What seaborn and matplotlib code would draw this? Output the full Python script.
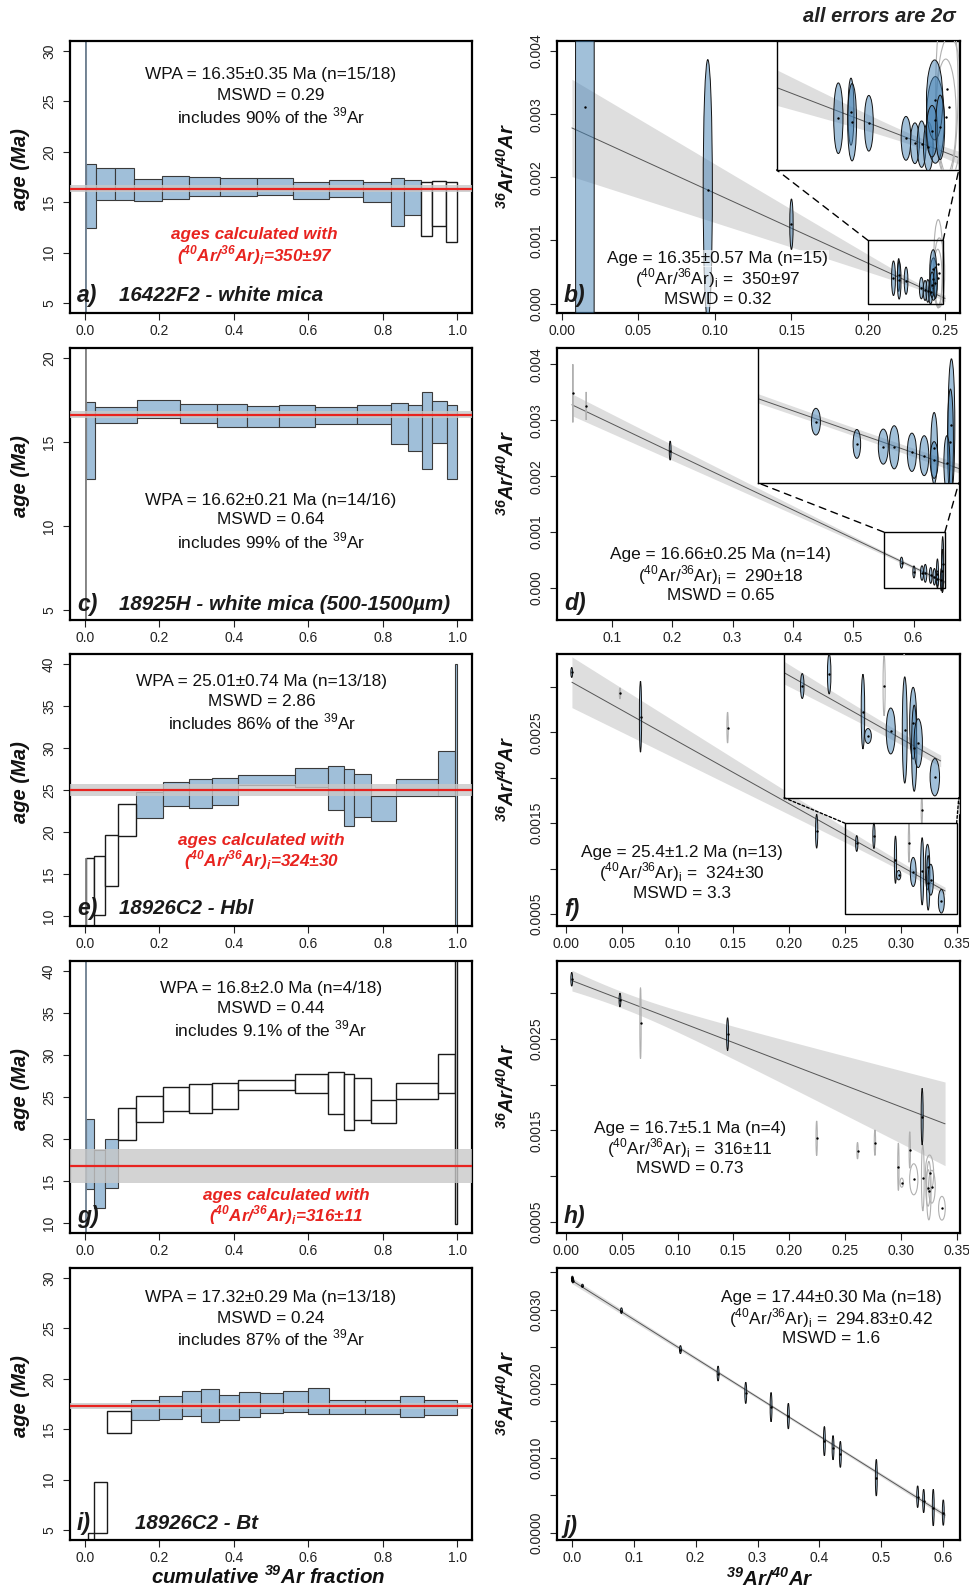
import numpy as np
import matplotlib
matplotlib.use("Agg")
import matplotlib.pyplot as plt
import seaborn as sns
from matplotlib.patches import Ellipse, Rectangle, ConnectionPatch

# superscript / subscript helpers (rendered in the text's own font)
S36, S39, S40, SI = (r"$^{\mathregular{36}}$", r"$^{\mathregular{39}}$",
                     r"$^{\mathregular{40}}$", r"$_{\mathregular{i}}$")
RATIO = "(" + S40 + "Ar/" + S36 + "Ar)" + SI

# ======================= DATA =======================
# ---- (a) 16422F2 white mica : age spectrum ----
A_EDGES = [0, 0.0015, 0.0036, 0.0296, 0.0808, 0.1329, 0.2074, 0.2801, 0.3636, 0.4632,
           0.5601, 0.6571, 0.7460, 0.8232, 0.8564, 0.9030, 0.9327, 0.9713, 1.0]
A_LO = [-40, -30, 12.42, 15.26, 15.26, 15.16, 15.29, 15.62, 15.59, 15.69, 15.29, 15.49,
        15.06, 12.68, 13.71, 11.60, 12.62, 11.04]
A_HI = [70, 60, 18.75, 18.39, 18.39, 17.27, 17.60, 17.47, 17.37, 17.37, 17.04, 17.24,
        17.04, 17.40, 17.17, 16.97, 17.14, 17.00]
A_INC = [1] * 15 + [0] * 3
A_WPA, A_WPA_ERR = 16.35, 0.35
A_TXT = ["WPA = 16.35±0.35 Ma (n=15/18)", "MSWD = 0.29", "includes 90% of the " + S39 + "Ar"]
A_RED = ["ages calculated with", RATIO + "=350±97"]
A_NAME = "16422F2 - white mica"

# ---- (c) 18925H white mica ----
C_EDGES = [0, 0.0015, 0.0036, 0.0278, 0.1409, 0.2567, 0.3546, 0.4345, 0.5224, 0.6194,
           0.7298, 0.8223, 0.8671, 0.9048, 0.9318, 0.9740, 1.0]
C_LO = [-20, -20, 12.81, 16.15, 16.44, 16.15, 15.89, 15.89, 15.89, 16.05, 16.05, 14.89,
        14.45, 13.40, 14.93, 12.81]
C_HI = [60, 60, 17.38, 17.10, 17.48, 17.28, 17.28, 17.14, 17.18, 17.06, 17.22, 17.34,
        17.22, 17.97, 17.46, 17.22]
C_INC = [0, 0] + [1] * 14
C_WPA, C_WPA_ERR = 16.62, 0.21
C_TXT = ["WPA = 16.62±0.21 Ma (n=14/16)", "MSWD = 0.64", "includes 99% of the " + S39 + "Ar"]
C_NAME = "18925H - white mica (500-1500µm)"

# ---- (e) / (g) 18926C2 Hbl ----
E_EDGES = [0, 0.0036, 0.0242, 0.0539, 0.0898, 0.1382, 0.2100, 0.2792, 0.3420, 0.4111,
           0.5655, 0.6544, 0.6948, 0.7226, 0.7684, 0.8357, 0.9480, 0.9937, 1.0]
E_LO = [2, 4, 10.16, 13.56, 19.51, 21.69, 23.12, 22.88, 23.27, 25.61, 25.37, 22.64,
        20.74, 21.81, 21.33, 24.30, 24.34, 0]
E_HI = [16.90, 16.93, 17.13, 19.59, 23.35, 24.78, 25.93, 26.33, 26.40, 26.76, 27.63,
        27.83, 27.51, 26.88, 24.26, 26.33, 29.66, 40.0]
E_INC = [0] * 5 + [1] * 13
E_WPA, E_WPA_ERR = 25.01, 0.74
E_TXT = ["WPA = 25.01±0.74 Ma (n=13/18)", "MSWD = 2.86", "includes 86% of the " + S39 + "Ar"]
E_RED = ["ages calculated with", RATIO + "=324±30"]
E_NAME = "18926C2 - Hbl"

G_LO = [-10, 14.04, 11.78, 14.16, 19.90, 22.00, 23.39, 23.12, 23.59, 25.85, 25.53,
        22.96, 21.09, 22.24, 21.89, 24.74, 25.49, 9.84]
G_HI = [60, 22.36, 18.64, 19.98, 23.67, 25.14, 26.17, 26.52, 26.72, 27.04, 27.71,
        28.03, 27.71, 27.28, 24.66, 26.72, 30.17, 60]
G_INC = [1] * 4 + [0] * 14
G_WPA, G_WPA_ERR = 16.8, 2.0
G_TXT = ["WPA = 16.8±2.0 Ma (n=4/18)", "MSWD = 0.44", "includes 9.1% of the " + S39 + "Ar"]
G_RED = ["ages calculated with", RATIO + "=316±11"]

# ---- (i) 18926C2 Bt ----
I_EDGES = [0, 0.003, 0.008, 0.0242, 0.0583, 0.1248, 0.1984, 0.2621, 0.3124, 0.3591,
           0.4129, 0.4695, 0.5314, 0.6005, 0.6562, 0.7513, 0.8474, 0.9102, 1.0]
I_LO = [0.5, 1.0, 1.5, 4.74, 14.64, 15.96, 16.06, 16.26, 15.67, 15.87, 16.16, 16.56,
        16.72, 16.46, 16.46, 16.46, 16.16, 16.36]
I_HI = [3.0, 3.5, 4.7, 9.72, 16.82, 17.85, 18.34, 18.84, 18.94, 18.44, 18.74, 18.64,
        18.84, 19.04, 17.85, 17.91, 18.34, 17.91]
I_INC = [0] * 5 + [1] * 13
I_WPA, I_WPA_ERR = 17.32, 0.29
I_TXT = ["WPA = 17.32±0.29 Ma (n=13/18)", "MSWD = 0.24", "includes 87% of the " + S39 + "Ar"]
I_NAME = "18926C2 - Bt"

# ---- (b) isochron 16422F2 ----
B_X = [0.0152, 0.0954, 0.1500, 0.2166, 0.2200, 0.2203, 0.2248, 0.2348, 0.2372, 0.2390,
       0.2408, 0.2427, 0.2425, 0.2418, 0.2440, 0.2458, 0.2465, 0.2455]
B_Y = [0.003117, 0.001796, 0.001257, 0.000401, 0.000452, 0.000370, 0.000362, 0.000245,
       0.000207, 0.000200, 0.000181, 0.000388, 0.000543, 0.000300, 0.000330, 0.00063,
       0.00049, 0.00041]
B_SX = [0.0061, 0.0030, 0.0011, 0.00125, 0.0008, 0.0012, 0.0012, 0.0013, 0.0012, 0.0012,
        0.0013, 0.0024, 0.0022, 0.0015, 0.0012, 0.0030, 0.0035, 0.0028]
B_SY = [0.0200, 0.00207, 0.00040, 0.000274, 0.000260, 0.000300, 0.000216, 0.000170,
        0.000158, 0.000180, 0.000190, 0.000336, 0.000310, 0.00020, 0.00025, 0.00070,
        0.00055, 0.00045]
B_INC = [1] * 15 + [0] * 3
B_R0, B_XINT = 350.0, 0.2576
B_BAND = (0.24, 0.00004, 0.0033)
B_TXT = ["Age = 16.35±0.57 Ma (n=15)", RATIO + " =  350±97", "MSWD = 0.32"]

# ---- (d) isochron 18925H ----
D_X = [0.0353, 0.0574, 0.1966, 0.5801, 0.6007, 0.6140, 0.6195, 0.6284, 0.6346, 0.6396,
       0.6396, 0.6483, 0.6478, 0.6460]
D_Y = [0.00348, 0.003255, 0.002457, 0.000454, 0.000289, 0.000269, 0.000264, 0.000227,
       0.000202, 0.000257, 0.000170, 0.000430, 0.000306, 0.000150]
D_SX = [0.0004, 0.0004, 0.0015, 0.00226, 0.0019, 0.0025, 0.0025, 0.0023, 0.0023, 0.0017,
        0.0020, 0.0017, 0.0015, 0.0015]
D_SY = [0.00052, 0.00025, 0.00017, 0.0000988, 0.000107, 0.00013, 0.00016, 0.000142,
        0.000148, 0.000265, 0.000136, 0.00049, 0.00039, 0.0002]
D_INC = [0, 0] + [1] * 12
D_R0, D_XINT = 290.0, 0.6728
D_BAND = (0.60, 0.00003, 0.00034)
D_TXT = ["Age = 16.66±0.25 Ma (n=14)", RATIO + " =  290±18", "MSWD = 0.65"]

# ---- (f) isochron 18926C2 Hbl ----
F_X = [0.0052, 0.0484, 0.0668, 0.1448, 0.2246, 0.2605, 0.2759, 0.3073, 0.2952, 0.2981,
       0.3111, 0.3191, 0.3239, 0.3245, 0.3268, 0.3363, 0.3188, 0.3530]
F_Y = [0.003157, 0.002927, 0.002671, 0.002551, 0.001412, 0.001277, 0.001361, 0.001280,
       0.001099, 0.000929, 0.000964, 0.000971, 0.001018, 0.000844, 0.000879, 0.000642,
       0.001642, 0.001720]
F_SX = [0.0008, 0.0006, 0.0010, 0.0006, 0.0010, 0.0010, 0.0010, 0.0006, 0.0010, 0.0019,
        0.0026, 0.0014, 0.0020, 0.0015, 0.0024, 0.0027, 0.0006, 0.0006]
F_SY = [0.000055, 0.00006, 0.00039, 0.00017, 0.000186, 0.000087, 0.000139, 0.00021,
        0.00026, 0.000052, 0.00016, 0.00037, 0.00025, 0.0003, 0.00017, 0.00013, 0.00015,
        0.00012]
F_INC = [1, 0, 1, 0, 1, 1, 1, 0, 1, 1, 1, 1, 1, 1, 1, 1, 0, 0]
F_R0, F_XINT = 324.0, 0.4497
F_BAND = (0.33, 0.00004, 0.00085)
F_TXT = ["Age = 25.4±1.2 Ma (n=13)", RATIO + " =  324±30", "MSWD = 3.3"]

# ---- (h) isochron 18926C2 Hbl, other selection ----
H_X = [0.0052, 0.0484, 0.0668, 0.1448, 0.2246, 0.2612, 0.2768, 0.2978, 0.3008, 0.3080,
       0.3116, 0.3191, 0.3197, 0.3251, 0.3257, 0.3278, 0.3368, 0.3244]
H_Y = [0.003154, 0.002927, 0.002672, 0.002552, 0.001413, 0.001277, 0.001365, 0.001102,
       0.000927, 0.001285, 0.000964, 0.001650, 0.000978, 0.000840, 0.001030, 0.000883,
       0.000647, 0.000870]
H_SX = [0.0008, 0.0008, 0.0006, 0.0009, 0.0006, 0.0006, 0.0006, 0.0006, 0.0015, 0.0006,
        0.0037, 0.0009, 0.0012, 0.0020, 0.0037, 0.0030, 0.0030, 0.0020]
H_SY = [0.000075, 0.000075, 0.00039, 0.00018, 0.00019, 0.00009, 0.00014, 0.00026, 0.00005,
        0.0002, 0.00017, 0.00031, 0.00036, 0.00032, 0.0002, 0.00018, 0.00013, 0.0002]
H_INC = [1, 1, 0, 1, 0, 0, 0, 0, 0, 0, 0, 1, 0, 0, 0, 0, 0, 0]
H_R0, H_XINT = 316.0, 0.6745
H_BAND = (0.05, 0.00009, 0.00155)
H_TXT = ["Age = 16.7±5.1 Ma (n=4)", RATIO + " =  316±11", "MSWD = 0.73"]

# ---- (j) isochron 18926C2 Bt ----
J_X = [0.0008, 0.0010, 0.0016, 0.0171, 0.0801, 0.1754, 0.2362, 0.2809, 0.3218, 0.3497,
       0.4079, 0.4219, 0.4337, 0.4918, 0.5586, 0.5683, 0.5838, 0.6000]
J_Y = [0.003420, 0.003403, 0.003390, 0.003322, 0.002986, 0.002462, 0.002140, 0.001880,
       0.001688, 0.001567, 0.001230, 0.001142, 0.001052, 0.000738, 0.000483, 0.000425,
       0.000336, 0.000269]
J_SX = [0.0015] * 18
J_SY = [0.00003, 0.00003, 0.00003, 0.00002, 0.000038, 0.000054, 0.0001, 0.000143, 0.000197,
        0.000172, 0.000197, 0.000163, 0.000175, 0.000246, 0.000146, 0.000157, 0.000246,
        0.000172]
J_INC = [1] * 18
J_R0, J_XINT = 294.83, 0.6477
J_BAND = (0.35, 0.00002, 0.0001)
J_TXT = ["Age = 17.44±0.30 Ma (n=18)", RATIO + " =  294.83±0.42", "MSWD = 1.6"]

SPEC_XTICKS = [0.0, 0.2, 0.4, 0.6, 0.8, 1.0]
SPEC_XLABELS = ["0.0", "0.2", "0.4", "0.6", "0.8", "1.0"]

# ======================= STYLE =======================
sns.set_theme(style="ticks")
plt.rcParams["font.family"] = ["Liberation Sans", "DejaVu Sans"]
plt.rcParams.update({
    "axes.linewidth": 1.6, "axes.edgecolor": "black", "axes.facecolor": "white",
    "xtick.major.size": 5, "ytick.major.size": 5,
    "xtick.major.width": 0.8, "ytick.major.width": 0.8,
    "xtick.labelsize": 10, "ytick.labelsize": 10,
    "xtick.color": "#222222", "ytick.color": "#222222",
    "xtick.direction": "out", "ytick.direction": "out",
})
BLUE = "#a0bfd9"
RED = "#e8231f"
ELL_FILL = (0.27, 0.51, 0.71, 0.5)
TXT = "#111111"
BI = dict(weight="bold", style="italic")
FS_TXT = 12.4

W, H = 969, 1589
fig = plt.figure(figsize=(W / 100, H / 100), dpi=100)
ROW_TOP = [41, 348, 654, 961, 1268]
AX_H = 272
LX0, LX1, RX0, RX1 = 70, 472, 557, 960


def add_ax(x0, x1, top):
    return fig.add_axes([x0 / W, 1 - (top + AX_H) / H, (x1 - x0) / W, AX_H / H])


def style(ax, xlim, ylim, xt, xl, yt, yl):
    ax.set_xlim(xlim)
    ax.set_ylim(ylim)
    ax.set_xticks(xt)
    ax.set_xticklabels(xl)
    ax.set_yticks(yt)
    ax.set_yticklabels(yl, rotation=90, va="center")
    ax.tick_params(axis="x", pad=3)
    ax.tick_params(axis="y", pad=5)
    for s in ax.spines.values():
        s.set_visible(True)
        s.set_linewidth(1.6)
    ax.set_xlabel("")
    ax.set_ylabel("")


def spectrum(ax, edges, lo, hi, inc, wpa, err, ylim, yticks):
    edges = np.asarray(edges, float)
    left, width = edges[:-1], np.diff(edges)
    lo, hi = np.asarray(lo, float), np.asarray(hi, float)
    inc = np.asarray(inc, bool)
    thin = width < 0.005
    for sel, fc, ec, lw in ((inc & ~thin, BLUE, "#3a3a3a", 0.8),
                            (inc & thin, BLUE, "#6a7a8a", 0.6),
                            (~inc & ~thin, "white", "#1a1a1a", 1.0),
                            (~inc & thin, "white", "#777777", 0.6)):
        if sel.any():
            ax.bar(left[sel], (hi - lo)[sel], width[sel], bottom=lo[sel], align="edge",
                   color=fc, edgecolor=ec, linewidth=lw, zorder=2)
    xlim = (-0.04, 1.04)
    ax.axhspan(wpa - err, wpa + err, color="#c8c8c8", alpha=0.8, lw=0, zorder=3)
    sns.lineplot(x=list(xlim), y=[wpa, wpa], ax=ax, color=RED, lw=1.6, zorder=4)
    style(ax, xlim, ylim, SPEC_XTICKS, SPEC_XLABELS, yticks, [str(v) for v in yticks])


def iso_draw(ax, X, Y, SX, SY, INC, r0, xint, band, xr):
    xs = np.linspace(xr[0], xr[1], 300)
    ys = (1.0 / r0) * (1 - xs / xint)
    hw = np.sqrt(band[1] ** 2 + (band[2] * (xs - band[0])) ** 2)
    ax.fill_between(xs, ys - hw, ys + hw, color="#dedede", lw=0, zorder=1)
    sns.lineplot(x=xs, y=ys, ax=ax, color="#555555", lw=0.7, zorder=2)
    for x, y, sx, sy, ok in zip(X, Y, SX, SY, INC):
        if ok:
            e = Ellipse((x, y), 2 * sx, 2 * sy, facecolor=ELL_FILL, edgecolor="#111111",
                        lw=0.7, zorder=4)
        else:
            e = Ellipse((x, y), 2 * sx, 2 * sy, facecolor="none", edgecolor="#b0b0b0",
                        lw=0.8, zorder=3)
        ax.add_patch(e)
    sns.scatterplot(x=X, y=Y, ax=ax, s=3, color="black", linewidth=0, zorder=6, legend=False)


def isochron(ax, X, Y, SX, SY, INC, r0, xint, band, xlim, ylim, xt, xl, yt, yl):
    d = (xlim[1] - xlim[0]) * 0.04 / 1.08
    xr = (xlim[0] + d, xlim[1] - d)
    iso_draw(ax, X, Y, SX, SY, INC, r0, xint, band, xr)
    style(ax, xlim, ylim, xt, xl, yt, yl)
    return xr


def inset(ax, rect_lim, box, X, Y, SX, SY, INC, r0, xint, band, xr, ls):
    (x0, x1), (y0, y1) = rect_lim
    ax.add_patch(Rectangle((x0, y0), x1 - x0, y1 - y0, fill=False, edgecolor="black",
                           lw=1.0, zorder=7))
    ia = ax.inset_axes(box)
    iso_draw(ia, X, Y, SX, SY, INC, r0, xint, band, xr)
    ia.set_xlim(x0, x1)
    ia.set_ylim(y0, y1)
    ia.set_xticks([])
    ia.set_yticks([])
    ia.set_xlabel("")
    ia.set_ylabel("")
    ia.set_facecolor("white")
    ia.set_zorder(8)
    for s in ia.spines.values():
        s.set_linewidth(1.0)
    for xa, xb in ((x0, 0), (x1, 1)):
        con = ConnectionPatch(xyA=(xa, y1), coordsA=ax.transData, xyB=(xb, 0),
                              coordsB=ia.transAxes, color="black", lw=1.0, linestyle=ls)
        fig.add_artist(con)


def three_lines(ax, lines, x, ys, size=FS_TXT, box=False):
    for t, y in zip(lines, ys):
        kw = {}
        if box:
            kw["bbox"] = dict(facecolor="white", alpha=0.6, edgecolor="none", pad=0.5)
        ax.text(x, y, t, transform=ax.transAxes, ha="center", va="center",
                fontsize=size, color=TXT, zorder=10, **kw)


def red_lines(ax, lines, x, ys):
    for t, y in zip(lines, ys):
        ax.text(x, y, t, transform=ax.transAxes, ha="center", va="center",
                fontsize=12.3, color=RED, zorder=10, **BI)


def panel_label(ax, lab, y, name=None, nx=0.122):
    ax.text(0.017, y, lab, transform=ax.transAxes, ha="left", va="center",
            fontsize=16.5, color="#1a1a1a", zorder=10, **BI)
    if name:
        ax.text(nx, y, name, transform=ax.transAxes, ha="left", va="center",
                fontsize=14.8, color="#1a1a1a", zorder=10, **BI)


# ======================= LEFT: age spectra =======================
ax_a = add_ax(LX0, LX1, ROW_TOP[0])
spectrum(ax_a, A_EDGES, A_LO, A_HI, A_INC, A_WPA, A_WPA_ERR, (4, 31), [5, 10, 15, 20, 25, 30])
three_lines(ax_a, A_TXT, 0.50, [0.875, 0.801, 0.724])
red_lines(ax_a, A_RED, 0.459, [0.29, 0.213])
panel_label(ax_a, "a)", 0.064, A_NAME)

ax_c = add_ax(LX0, LX1, ROW_TOP[1])
spectrum(ax_c, C_EDGES, C_LO, C_HI, C_INC, C_WPA, C_WPA_ERR, (4.4, 20.6), [5, 10, 15, 20])
three_lines(ax_c, C_TXT, 0.50, [0.441, 0.368, 0.29])
panel_label(ax_c, "c)", 0.058, C_NAME)

ax_e = add_ax(LX0, LX1, ROW_TOP[2])
spectrum(ax_e, E_EDGES, E_LO, E_HI, E_INC, E_WPA, E_WPA_ERR, (8.8, 41.2),
         [10, 15, 20, 25, 30, 35, 40])
three_lines(ax_e, E_TXT, 0.477, [0.898, 0.825, 0.751])
red_lines(ax_e, E_RED, 0.477, [0.316, 0.243])
panel_label(ax_e, "e)", 0.0625, E_NAME)

ax_g = add_ax(LX0, LX1, ROW_TOP[3])
spectrum(ax_g, E_EDGES, G_LO, G_HI, G_INC, G_WPA, G_WPA_ERR, (8.8, 41.2),
         [10, 15, 20, 25, 30, 35, 40])
three_lines(ax_g, G_TXT, 0.499, [0.90, 0.826, 0.749])
red_lines(ax_g, G_RED, 0.538, [0.137, 0.066])
panel_label(ax_g, "g)", 0.06)

ax_i = add_ax(LX0, LX1, ROW_TOP[4])
spectrum(ax_i, I_EDGES, I_LO, I_HI, I_INC, I_WPA, I_WPA_ERR, (4, 31), [5, 10, 15, 20, 25, 30])
three_lines(ax_i, I_TXT, 0.50, [0.892, 0.815, 0.742])
panel_label(ax_i, "i)", 0.061, I_NAME, nx=0.162)

# ======================= RIGHT: isochrons =======================
R_YT = [0.0, 0.001, 0.002, 0.003, 0.004]
R_YL = ["0.000", "0.001", "0.002", "0.003", "0.004"]
FH_YT = [0.0005, 0.001, 0.0015, 0.002, 0.0025, 0.003]
FH_YL = ["0.0005", "", "0.0015", "", "0.0025", ""]
FH_XT = [0, 0.05, 0.10, 0.15, 0.20, 0.25, 0.30, 0.35]
FH_XL = ["0.00", "0.05", "0.10", "0.15", "0.20", "0.25", "0.30", "0.35"]

ax_b = add_ax(RX0, RX1, ROW_TOP[0])
xr_b = isochron(ax_b, B_X, B_Y, B_SX, B_SY, B_INC, B_R0, B_XINT, B_BAND,
                (-0.003, 0.26), (-0.00015, 0.00416),
                [0, 0.05, 0.10, 0.15, 0.20, 0.25],
                ["0.00", "0.05", "0.10", "0.15", "0.20", "0.25"], R_YT, R_YL)
inset(ax_b, ((0.20, 0.249), (0.0, 0.001)), [0.545, 0.526, 0.452, 0.474],
      B_X, B_Y, B_SX, B_SY, B_INC, B_R0, B_XINT, B_BAND, xr_b, (0, (5, 4)))
three_lines(ax_b, B_TXT, 0.398, [0.201, 0.128, 0.051], box=True)
panel_label(ax_b, "b)", 0.066)

ax_d = add_ax(RX0, RX1, ROW_TOP[1])
xr_d = isochron(ax_d, D_X, D_Y, D_SX, D_SY, D_INC, D_R0, D_XINT, D_BAND,
                (0.009, 0.677), (-0.00057, 0.00429),
                [0.1, 0.2, 0.3, 0.4, 0.5, 0.6], ["0.1", "0.2", "0.3", "0.4", "0.5", "0.6"],
                R_YT, R_YL)
inset(ax_d, ((0.551, 0.652), (0.0, 0.001)), [0.499, 0.504, 0.498, 0.496],
      D_X, D_Y, D_SX, D_SY, D_INC, D_R0, D_XINT, D_BAND, xr_d, (0, (5, 4)))
three_lines(ax_d, D_TXT, 0.406, [0.239, 0.165, 0.089])
panel_label(ax_d, "d)", 0.061)

ax_f = add_ax(RX0, RX1, ROW_TOP[2])
xr_f = isochron(ax_f, F_X, F_Y, F_SX, F_SY, F_INC, F_R0, F_XINT, F_BAND,
                (-0.008, 0.353), (0.00037, 0.00336), FH_XT, FH_XL, FH_YT, FH_YL)
inset(ax_f, ((0.25, 0.35), (0.0005, 0.0015)), [0.563, 0.472, 0.434, 0.528],
      F_X, F_Y, F_SX, F_SY, F_INC, F_R0, F_XINT, F_BAND, xr_f, (0, (2, 1.5)))
three_lines(ax_f, F_TXT, 0.31, [0.271, 0.197, 0.12])
panel_label(ax_f, "f)", 0.061)

ax_h = add_ax(RX0, RX1, ROW_TOP[3])
isochron(ax_h, H_X, H_Y, H_SX, H_SY, H_INC, H_R0, H_XINT, H_BAND,
         (-0.008, 0.353), (0.000376, 0.003354), FH_XT, FH_XL, FH_YT, FH_YL)
three_lines(ax_h, H_TXT, 0.33, [0.385, 0.311, 0.238])
panel_label(ax_h, "h)", 0.06)

ax_j = add_ax(RX0, RX1, ROW_TOP[4])
isochron(ax_j, J_X, J_Y, J_SX, J_SY, J_INC, J_R0, J_XINT, J_BAND,
         (-0.024, 0.627), (-0.0001, 0.00356),
         [0, 0.1, 0.2, 0.3, 0.4, 0.5, 0.6], ["0.0", "0.1", "0.2", "0.3", "0.4", "0.5", "0.6"],
         [0, 0.0005, 0.001, 0.0015, 0.002, 0.0025, 0.003, 0.0035],
         ["0.0000", "", "0.0010", "", "0.0020", "", "0.0030", ""])
three_lines(ax_j, J_TXT, 0.68, [0.892, 0.815, 0.742])
panel_label(ax_j, "j)", 0.05)

# ======================= figure-level labels =======================
for top in ROW_TOP:
    fig.text(20 / W, 1 - (top + 128) / H, "age (Ma)", rotation=90, ha="center",
             va="center", fontsize=14.5, color=TXT, **BI)
    fig.text(507 / W, 1 - (top + 125) / H, S36 + "Ar/" + S40 + "Ar", rotation=90,
             ha="center", va="center", fontsize=14.5, color=TXT, **BI)

fig.text(956 / W, 1 - 17 / H, "all errors are 2σ", ha="right", va="center",
         fontsize=14.5, color="#222222", **BI)
fig.text(268 / W, 1 - 1577 / H, "cumulative " + S39 + "Ar fraction", ha="center",
         va="center", fontsize=14.8, color=TXT, **BI)
fig.text(770 / W, 1 - 1578 / H, S39 + "Ar/" + S40 + "Ar", ha="center", va="center",
         fontsize=14.8, color=TXT, **BI)

fig.savefig("out.png", dpi=100, facecolor="white")
